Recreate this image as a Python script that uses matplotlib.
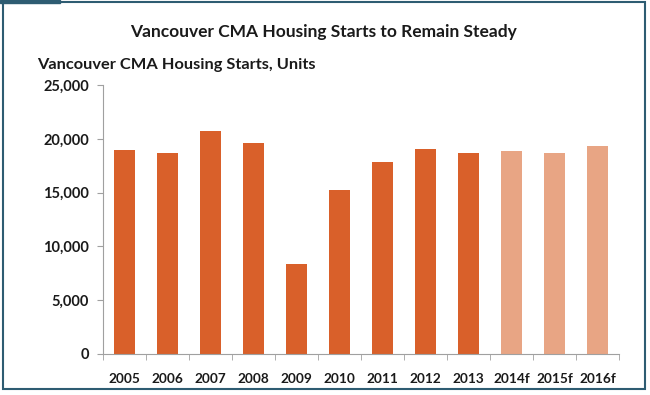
import matplotlib.pyplot as plt
import matplotlib.patches as patches
from matplotlib.ticker import FuncFormatter, FixedLocator
import numpy as np

plt.rcParams['font.family'] = ['Lato', 'DejaVu Sans']

# data
years = ['2005', '2006', '2007', '2008', '2009', '2010', '2011', '2012',
         '2013', '2014f', '2015f', '2016f']
starts = [18914, 18705, 20736, 19591, 8339, 15217, 17867, 19027,
          18696, 18900, 18700, 19300]
is_forecast = [False] * 9 + [True] * 3

dark = '#D9602A'
light = '#E8A584'
frame = '#2E5C72'

fig = plt.figure(figsize=(6.5, 3.95), dpi=100)
ax = fig.add_axes([0.1585, 0.1038, 0.7938, 0.681])

x = np.arange(len(years))
colors = [light if f else dark for f in is_forecast]
ax.bar(x, starts, width=0.49, color=colors, zorder=2)

ax.set_xlim(-0.5, len(years) - 0.5)
ax.set_ylim(0, 25000)
ax.set_yticks(range(0, 25001, 5000))
ax.yaxis.set_major_formatter(FuncFormatter(lambda v, p: f'{int(v):,}'))
ax.set_xticks(x)
ax.set_xticklabels(years)
ax.xaxis.set_minor_locator(FixedLocator(np.arange(-0.5, len(years), 1)))

for s in ['top', 'right']:
    ax.spines[s].set_visible(False)
for s in ['left', 'bottom']:
    ax.spines[s].set_color('#A0A0A0')
    ax.spines[s].set_linewidth(0.8)

ax.tick_params(axis='y', length=4, color='#A0A0A0', pad=6, labelsize=10.5,
               labelcolor='#1a1a1a')
ax.tick_params(axis='x', which='major', length=0, pad=14, labelsize=9.8,
               labelcolor='#1a1a1a')
ax.tick_params(axis='x', which='minor', length=4, color='#A0A0A0')
for lbl in ax.get_xticklabels() + ax.get_yticklabels():
    lbl.set_fontweight('bold')

fig.text(0.497, 0.918, 'Vancouver CMA Housing Starts to Remain Steady',
         ha='center', va='center', fontsize=12.5, fontweight='bold', color='#1a1a1a')
fig.text(0.057, 0.835, 'Vancouver CMA Housing Starts, Units',
         ha='left', va='center', fontsize=11.8, fontweight='bold', color='#1a1a1a')

# frame around the chart
fig.patches.append(patches.Rectangle((3 / 650, 1 - 389 / 395), 642 / 650, 387 / 395,
                                     transform=fig.transFigure, fill=False,
                                     edgecolor=frame, linewidth=1.5))
fig.patches.append(patches.Rectangle((0, 1 - 3 / 395), 60 / 650, 3 / 395,
                                     transform=fig.transFigure, color=frame))

fig.savefig('out.png', dpi=100)
